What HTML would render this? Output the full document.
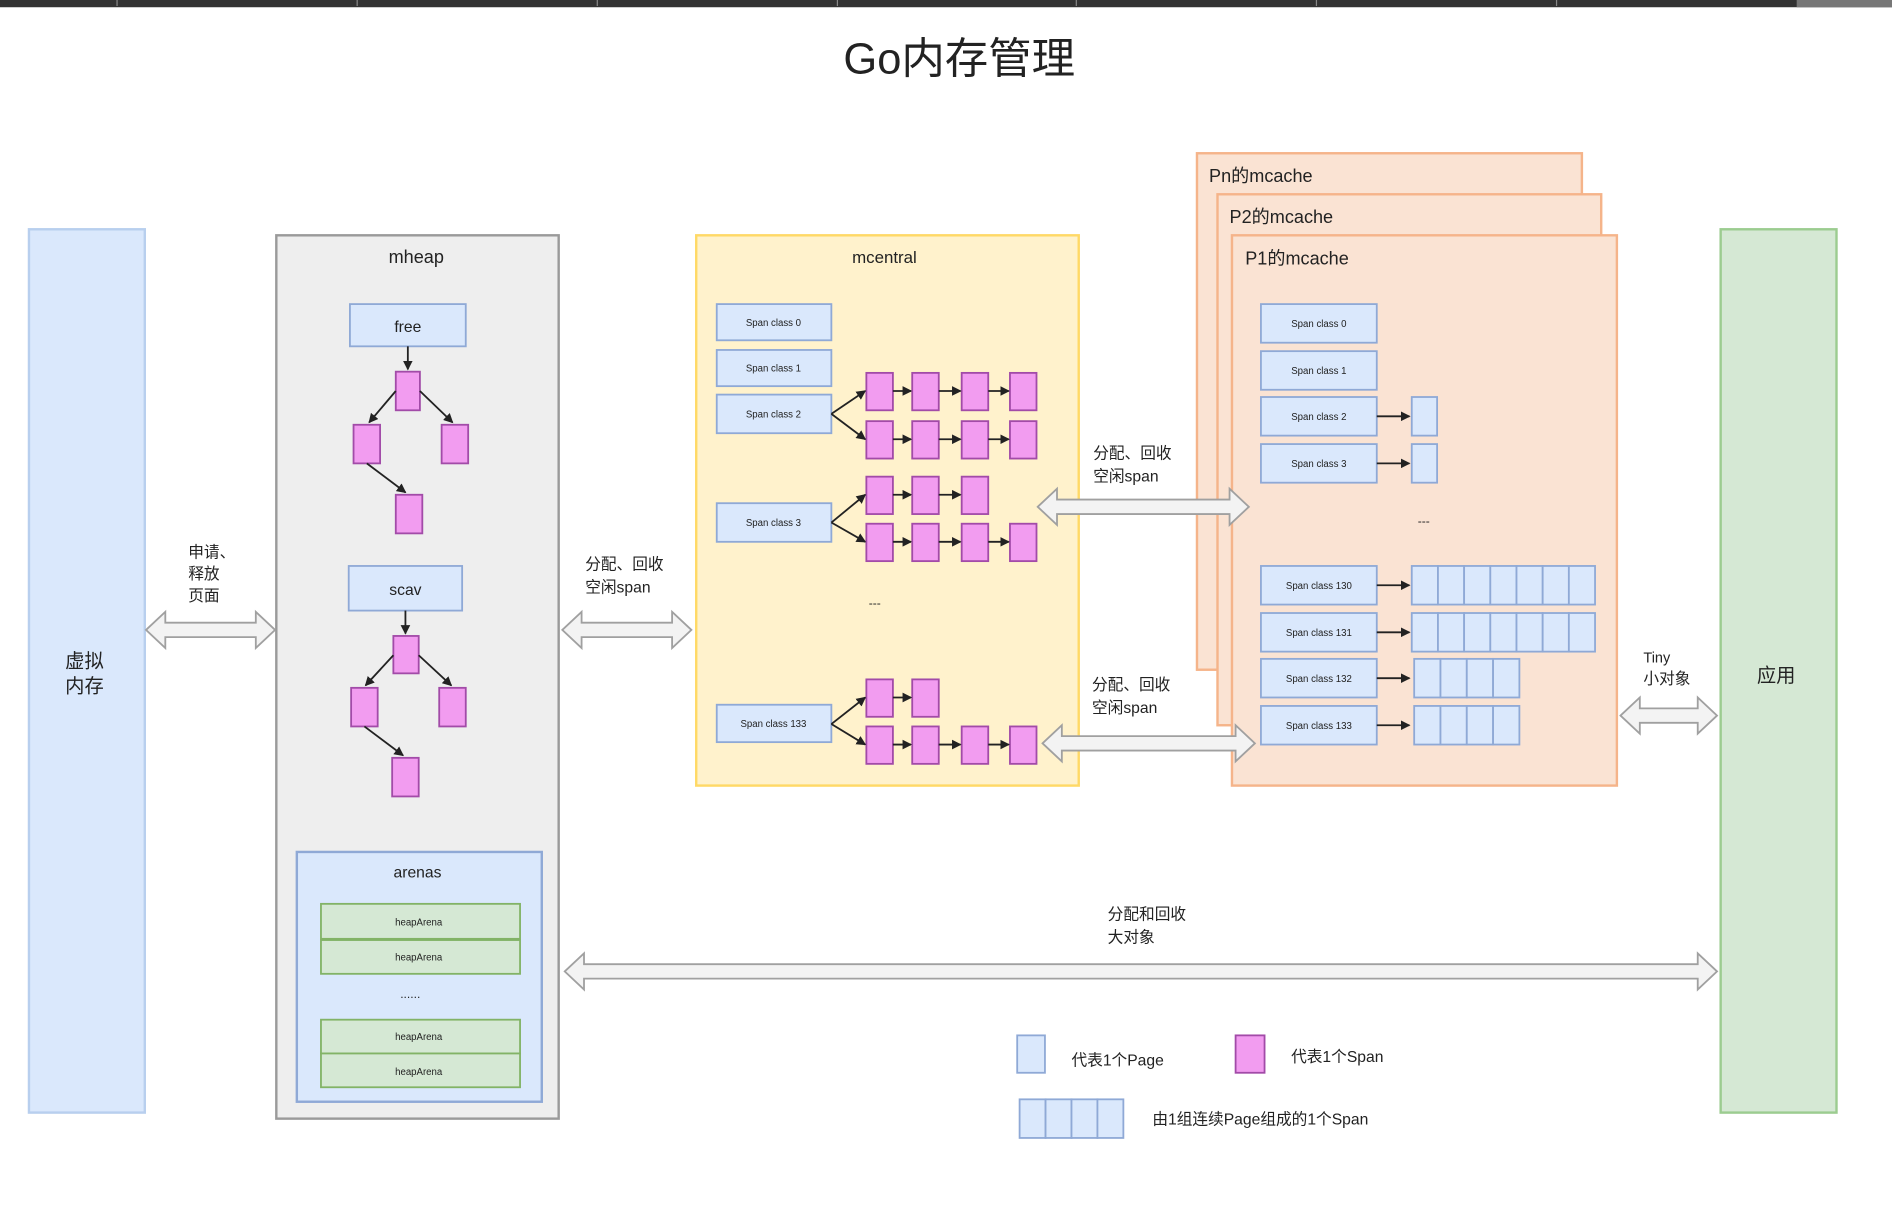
<!DOCTYPE html>
<html><head><meta charset="utf-8"><style>
html,body{margin:0;padding:0;background:#fff;}
svg{display:block;}
text{font-family:"Liberation Sans","Noto Sans CJK SC",sans-serif;fill:#222;}
</style></head><body>
<svg id="s" width="1892" height="1220" viewBox="0 0 1568 1011" preserveAspectRatio="none" xmlns="http://www.w3.org/2000/svg">
<rect x="0" y="0" width="1568" height="6" fill="#333"/>
<rect x="1489" y="0" width="79" height="6" fill="#777"/>
<g stroke="#888" stroke-width="1"><line x1="97" y1="0" x2="97" y2="5"/><line x1="296" y1="0" x2="296" y2="5"/><line x1="495" y1="0" x2="495" y2="5"/><line x1="694" y1="0" x2="694" y2="5"/><line x1="892" y1="0" x2="892" y2="5"/><line x1="1091" y1="0" x2="1091" y2="5"/><line x1="1290" y1="0" x2="1290" y2="5"/></g>
<text x="795" y="61" font-size="36" text-anchor="middle">Go内存管理</text>

<rect x="24" y="190" width="96" height="732" fill="#dae8fc" stroke="#b8cfee" stroke-width="2"/>
<text x="70" y="553" font-size="16" text-anchor="middle">虚拟</text>
<text x="70" y="574" font-size="16" text-anchor="middle">内存</text>

<rect x="229" y="195" width="234" height="732" fill="#eeeeee" stroke="#9a9a9a" stroke-width="2"/>
<text x="345" y="218" font-size="15" text-anchor="middle">mheap</text>
<rect x="290" y="252" width="96" height="35" fill="#dae8fc" stroke="#8fa9d6" stroke-width="1.5"/>
<text x="338" y="275" font-size="13" text-anchor="middle">free</text>
<rect x="289" y="469" width="94" height="37" fill="#dae8fc" stroke="#8fa9d6" stroke-width="1.5"/>
<text x="336" y="493" font-size="13" text-anchor="middle">scav</text>

<rect x="246" y="706" width="203" height="207" fill="#dae8fc" stroke="#8fa9d6" stroke-width="2"/>
<text x="346" y="727" font-size="13" text-anchor="middle">arenas</text>
<g fill="#d5e8d4" stroke="#82b366" stroke-width="1.5">
<rect x="266" y="749" width="165" height="29"/><rect x="266" y="779" width="165" height="28"/>
<rect x="266" y="845" width="165" height="28"/><rect x="266" y="873" width="165" height="28"/>
</g>
<g font-size="8" text-anchor="middle"><text x="347" y="767">heapArena</text><text x="347" y="796">heapArena</text><text x="347" y="862">heapArena</text><text x="347" y="891">heapArena</text></g>
<text x="340" y="827" font-size="10" text-anchor="middle">......</text>

<rect x="577" y="195" width="317" height="456" fill="#fff2cc" stroke="#ffd966" stroke-width="2"/>
<text x="733" y="218" font-size="14" text-anchor="middle">mcentral</text>
<text x="725" y="503" font-size="10" text-anchor="middle">---</text>

<rect x="992" y="127" width="319" height="428" fill="#fae3d3" stroke="#f5b48a" stroke-width="2"/>
<text x="1002" y="151" font-size="15">Pn的mcache</text>
<rect x="1009" y="161" width="318" height="440" fill="#fae3d3" stroke="#f5b48a" stroke-width="2"/>
<text x="1019" y="185" font-size="15">P2的mcache</text>
<rect x="1021" y="195" width="319" height="456" fill="#fae3d3" stroke="#f5b48a" stroke-width="2"/>
<text x="1032" y="219" font-size="15">P1的mcache</text>
<text x="1180" y="435" font-size="10" text-anchor="middle">---</text>

<rect x="1426" y="190" width="96" height="732" fill="#d5e8d4" stroke="#9ccc90" stroke-width="2"/>
<text x="1472" y="565" font-size="16" text-anchor="middle">应用</text>

<g font-size="13">
<text x="156" y="462">申请、</text><text x="156" y="480">释放</text><text x="156" y="498">页面</text>
<text x="485" y="472">分配、回收</text><text x="485" y="491">空闲span</text>
<text x="906" y="380">分配、回收</text><text x="906" y="399">空闲span</text>
<text x="905" y="572">分配、回收</text><text x="905" y="591">空闲span</text>
<text x="1362" y="549" font-size="12">Tiny</text><text x="1362" y="567">小对象</text>
<text x="918" y="762">分配和回收</text><text x="918" y="781">大对象</text>
<text x="888" y="883">代表1个Page</text>
<text x="1070" y="880">代表1个Span</text>
<text x="955" y="932">由1组连续Page组成的1个Span</text>
</g>

<g id="dyn"></g>
</svg>
<script>
var g=document.getElementById('dyn'),NS="http://www.w3.org/2000/svg",h='';
function rect(x,y,w,hh,f,s){h+='<rect x="'+x+'" y="'+y+'" width="'+w+'" height="'+hh+'" fill="'+f+'" stroke="'+s+'" stroke-width="1.5"/>';}
function line(x1,y1,x2,y2,arr){h+='<line x1="'+x1+'" y1="'+y1+'" x2="'+x2+'" y2="'+y2+'" stroke="#222" stroke-width="1.5"'+(arr?' marker-end="url(#ah)"':'')+'/>';}
function txt(x,y,t,fs){h+='<text x="'+x+'" y="'+y+'" font-size="'+fs+'" text-anchor="middle">'+t+'</text>';}
function barrow(x1,x2,cy){var a=16,H=15,S=6;h+='<path d="M'+x1+' '+cy+' L'+(x1+a)+' '+(cy-H)+' L'+(x1+a)+' '+(cy-S)+' L'+(x2-a)+' '+(cy-S)+' L'+(x2-a)+' '+(cy-H)+' L'+x2+' '+cy+' L'+(x2-a)+' '+(cy+H)+' L'+(x2-a)+' '+(cy+S)+' L'+(x1+a)+' '+(cy+S)+' L'+(x1+a)+' '+(cy+H)+' Z" fill="#f3f3f3" stroke="#a0a0a0" stroke-width="1.5"/>';}
h+='<defs><marker id="ah" markerWidth="8" markerHeight="8" refX="7" refY="4" orient="auto" markerUnits="userSpaceOnUse"><path d="M0 0 L8 4 L0 8 Z" fill="#222"/></marker></defs>';
var P='#f29cf0',PS='#a24ba8',B='#dae8fc',BS='#8fa9d6';
// mheap trees
function tree(top,mid,bot,cx,l,r,g2){
 line(cx,top,cx,mid-2,1);
}
// free tree
line(338,287,338,306,1);
rect(328,308,20,32,P,PS);rect(293,352,22,32,P,PS);rect(366,352,22,32,P,PS);rect(328,410,22,32,P,PS);
line(328,324,306,350,1);line(348,324,375,350,1);line(304,384,336,408,1);
line(336,506,336,525,1);
rect(326,527,21,31,P,PS);rect(291,570,22,32,P,PS);rect(364,570,22,32,P,PS);rect(325,628,22,32,P,PS);
line(326,543,303,568,1);line(347,543,374,568,1);line(302,602,334,626,1);
// mcentral span classes
var sc=[[252,30,'Span class 0'],[290,30,'Span class 1'],[327,32,'Span class 2'],[417,32,'Span class 3'],[584,31,'Span class 133']];
sc.forEach(function(s){rect(594,s[0],95,s[1],B,BS);txt(641,s[0]+s[1]/2+3,s[2],8);});
var cols=[718,756,797,837];
function chain(y,n){for(var i=0;i<n;i++){rect(cols[i],y,22,31,P,PS);if(i>0)line(cols[i-1]+22,y+15,cols[i]-1,y+15,1);}}
function fork(fy,y1,y2){line(689,fy,717,y1+15,1);line(689,fy,717,y2+15,1);}
chain(309,4);chain(349,4);fork(343,309,349);
chain(395,3);chain(434,4);fork(433,395,434);
chain(563,2);chain(602,4);fork(600,563,602);
// mcache
var mc=[[252,'Span class 0'],[291,'Span class 1'],[329,'Span class 2'],[368,'Span class 3'],[469,'Span class 130'],[508,'Span class 131'],[546,'Span class 132'],[585,'Span class 133']];
mc.forEach(function(s){rect(1045,s[0],96,32,B,BS);txt(1093,s[0]+19,s[1],8);});
rect(1170,329,21,32,B,BS);rect(1170,368,21,32,B,BS);
line(1141,345,1168,345,1);line(1141,384,1168,384,1);
function pages(x,y,n,w){for(var i=0;i<n;i++)rect(x+i*w,y,w,32,B,BS);}
pages(1170,469,7,21.7);pages(1170,508,7,21.7);pages(1172,546,4,21.8);pages(1172,585,4,21.8);
[469,508,546,585].forEach(function(y){line(1141,y+16,1168,y+16,1);});
// block arrows
barrow(121,228,522);barrow(466,573,522);barrow(860,1035,420);barrow(864,1040,616);barrow(1343,1423,593);barrow(468,1423,805);
// legend
rect(843,858,23,31,B,BS);rect(1024,858,24,31,P,PS);pages(845,911,4,21.5);
g.innerHTML=h;
</script>
</body></html>
